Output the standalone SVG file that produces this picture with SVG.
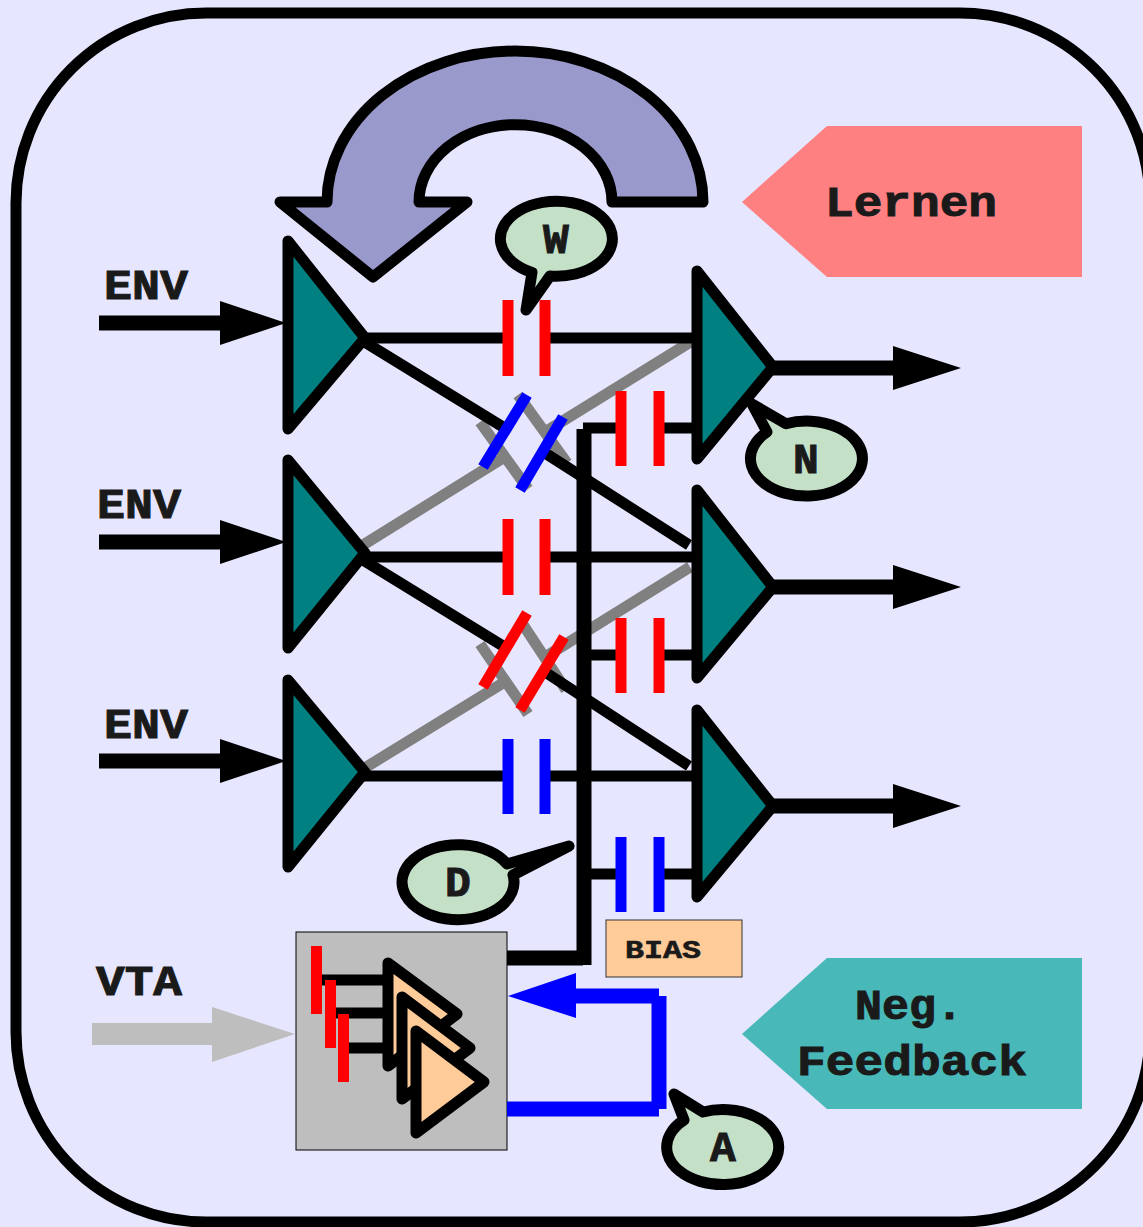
<svg xmlns="http://www.w3.org/2000/svg" width="1143" height="1227" viewBox="0 0 1143 1227">
<defs>
<style>
.tri{fill:#008080;stroke:#000;stroke-width:11;stroke-linejoin:round}
.mini{fill:#ffcc99;stroke:#000;stroke-width:11;stroke-linejoin:round}
.bub{fill:#c4e1c8;stroke:#000;stroke-width:11;stroke-linejoin:round}
.w{stroke:#000;stroke-width:11;fill:none}
.g{stroke:#808080;stroke-width:11;fill:none}
.thick{stroke:#000;stroke-width:15;fill:none}
.red{stroke:#f00;stroke-width:11;fill:none}
.blue{stroke:#00f;stroke-width:11;fill:none}
.bl{stroke:#00f;stroke-width:15;fill:none}
.t{font-family:"Liberation Mono",monospace;font-weight:bold;fill:#1a1a1a;stroke:#1a1a1a;stroke-width:1;font-size:43px}
.m{text-anchor:middle}
</style>
</defs>
<rect width="1143" height="1227" fill="#e6e6ff"/>
<rect id="frame" x="16" y="13" width="1134" height="1209" rx="190" ry="190" fill="#e6e6ff" stroke="#000" stroke-width="11"/>
<g id="connectors">
<path class="g" d="M480 422L528 489M518 395L567 463"/>
<path class="g" d="M480 644L528 714M520 620L566 690"/>
<path class="g" d="M363 545L503 458M545 432L692 341"/>
<path class="g" d="M363 769L503 683M545 657L690 567"/>
<path class="w" d="M363 338H508M545 338H697"/>
<path class="w" d="M363 557H508M545 557H697"/>
<path class="w" d="M363 776H508M545 776H697"/>
<path class="w" d="M363 341L503 427M545 453L689 545"/>
<path class="w" d="M363 560L503 646M545 672L689 766"/>
<path class="red" d="M508 300V376M545 300V376M508 519V595M545 519V595"/>
<path class="blue" d="M508 739V814M545 739V814"/>
<path class="blue" d="M483 467L527 395M520 490L563 417"/>
<path class="red" d="M483 687L527 613M520 710L564 637"/>
<path class="w" d="M583 428H621M659 428H697M590 655H621M659 655H697M590 874H621M659 874H697"/>
<path class="red" d="M621 391V466M659 391V466M621 618V693M659 618V693"/>
<path class="blue" d="M621 837V912M659 837V912"/>
<path class="thick" d="M584 429V965M507 958H583"/>
<path class="thick" d="M99 323H222M99 542H222M99 761H222M770 368H895M770 587H895M770 806H895"/>
<path d="M220 301L286 323L220 345ZM220 520L286 542L220 564ZM220 739L286 761L220 783ZM893 346L961 368L893 390ZM893 565L961 587L893 609ZM893 784L961 806L893 828Z" fill="#000"/>
<path d="M92 1034H214" stroke="#bebebe" stroke-width="22" fill="none"/>
<path d="M212 1007L295 1034L212 1062Z" fill="#bebebe"/>
</g>
<g id="loop"><path d="M703 202A188 151 0 0 0 327 202H280L373 277L467 202H419A96 77 0 0 1 612 202Z" fill="#9999cc" stroke="#000" stroke-width="11" stroke-linejoin="round"/></g>
<g id="n1"><path class="tri" d="M288 241L365 338L288 429Z"/></g>
<g id="n2"><path class="tri" d="M288 460L365 553L288 648Z"/></g>
<g id="n3"><path class="tri" d="M288 680L365 772L288 867Z"/></g>
<g id="n4"><path class="tri" d="M697 271L773 367L697 459Z"/></g>
<g id="n5"><path class="tri" d="M697 490L773 587L697 678Z"/></g>
<g id="n6"><path class="tri" d="M697 710L773 806L697 897Z"/></g>
<g id="vta-box">
<rect x="296" y="932" width="211" height="218" fill="#bebebe" stroke="#000" stroke-width="1"/>
<path class="w" d="M322 980H388M336 1013H402M349 1048H416"/>
<path d="M311 946h11v68h-11zM325 980h11v68h-11zM338 1014h11v68h-11z" fill="#f00"/>
<path class="mini" d="M388 963L457 1014L388 1066Z"/>
<path class="mini" d="M402 997L470 1048L402 1099Z"/>
<path class="mini" d="M416 1031L484 1082L416 1133Z"/>
</g>
<g id="feedback-arrow">
<path class="bl" d="M574 996H659M659 996V1109M507 1109H659"/>
<path d="M508 996L576 973V1018Z" fill="#00f"/>
</g>
<g id="bias"><rect x="606" y="920" width="136" height="57" fill="#ffcc99" stroke="#333" stroke-width="1"/><text class="t" x="625" y="958" style="font-size:26px;stroke-width:.6" textLength="76" lengthAdjust="spacingAndGlyphs">BIAS</text></g>
<g id="lernen"><path d="M742 202L827 126H1082V277H827Z" fill="#ff8080"/><text class="t" x="825" y="216" textLength="172" lengthAdjust="spacingAndGlyphs">Lernen</text></g>
<g id="neg"><path d="M742 1034L827 958H1082V1109H827Z" fill="#48b8b8"/><text class="t" x="855" y="1019" textLength="108" lengthAdjust="spacingAndGlyphs">Neg.</text><text class="t" x="797" y="1075" textLength="230" lengthAdjust="spacingAndGlyphs">Feedback</text></g>
<g id="env1"><text class="t" x="104" y="299" textLength="84" lengthAdjust="spacingAndGlyphs">ENV</text></g>
<g id="env2"><text class="t" x="97" y="518" textLength="84" lengthAdjust="spacingAndGlyphs">ENV</text></g>
<g id="env3"><text class="t" x="104" y="738" textLength="84" lengthAdjust="spacingAndGlyphs">ENV</text></g>
<g id="vta"><text class="t" x="96" y="995" textLength="86" lengthAdjust="spacingAndGlyphs">VTA</text></g>
<g id="bW"><path class="bub" d="M532 272.5L526 310L550 276A56 37.5 0 1 0 532 272.5Z"/><text class="t m" x="556" y="253">W</text></g>
<g id="bN"><path class="bub" d="M767 432L752 404L786 423.7A56 37.5 0 1 1 767 432Z"/><text class="t m" x="806" y="473">N</text></g>
<g id="bA"><path class="bub" d="M684 1120L674 1094L703 1112A56 37.5 0 1 1 684 1120Z"/><text class="t m" x="723" y="1161">A</text></g>
<g id="bD"><path class="bub" d="M507 864L569 846L513 875A56 37.5 0 1 1 507 864Z"/><text class="t m" x="458" y="896">D</text></g>
</svg>
